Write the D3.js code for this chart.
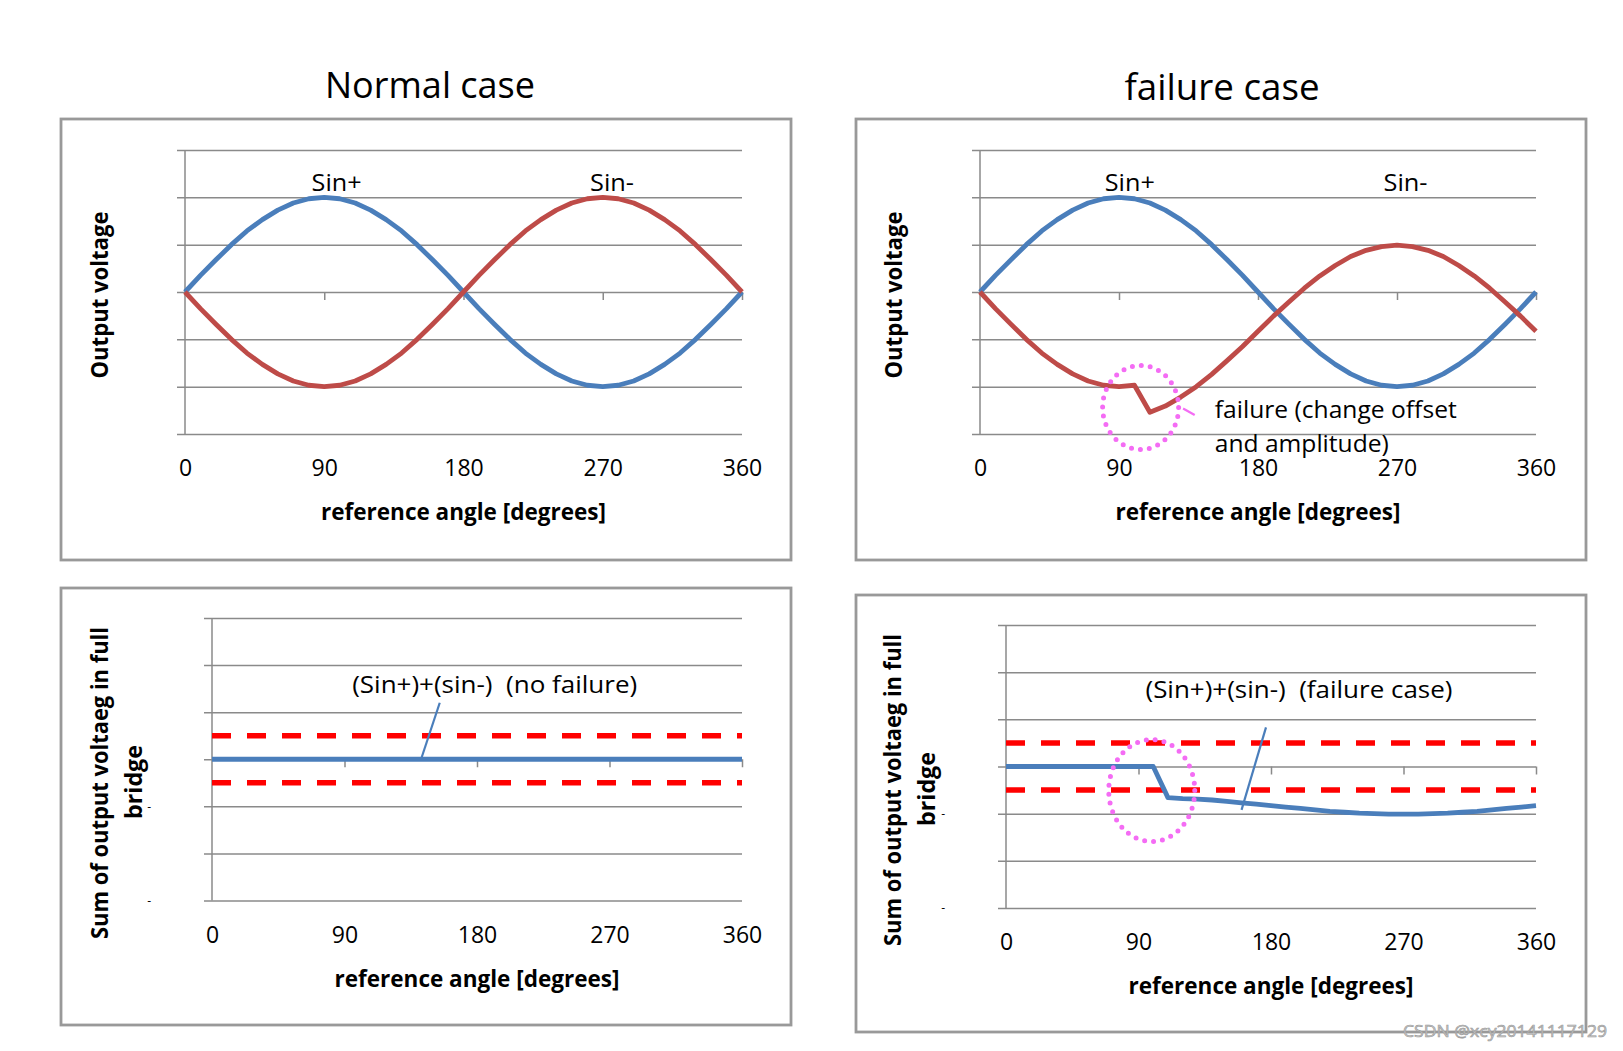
<!DOCTYPE html>
<html>
<head>
<meta charset="utf-8">
<script src="https://cdn.jsdelivr.net/npm/d3@7"></script>
<style>
  body { margin: 0; background: #fff; }
  svg text { font-family: "Open Sans", "Noto Sans", sans-serif; fill: #000; }
</style>
</head>
<body>
<svg id="chart" width="1623" height="1051"></svg>
<script>
// x values (reference angle, degrees)
const angles = [0, 10, 20, 30, 40, 50, 60, 70, 80, 90, 100, 110, 120, 130, 140, 150, 160, 170, 180,
  190, 200, 210, 220, 230, 240, 250, 260, 270, 280, 290, 300, 310, 320, 330, 340, 350, 360];

// output voltages
const sinPlus = [0, 0.35, 0.68, 1.00, 1.29, 1.53, 1.73, 1.88, 1.97, 2.00, 1.97, 1.88, 1.73, 1.53, 1.29, 1.00, 0.68, 0.35, 0,
  -0.35, -0.68, -1.00, -1.29, -1.53, -1.73, -1.88, -1.97, -2.00, -1.97, -1.88, -1.73, -1.53, -1.29, -1.00, -0.68, -0.35, 0];
const sinMinusNormal = [0, -0.35, -0.68, -1.00, -1.29, -1.53, -1.73, -1.88, -1.97, -2.00, -1.97, -1.88, -1.73, -1.53, -1.29, -1.00, -0.68, -0.35, 0,
  0.35, 0.68, 1.00, 1.29, 1.53, 1.73, 1.88, 1.97, 2.00, 1.97, 1.88, 1.73, 1.53, 1.29, 1.00, 0.68, 0.35, 0];
const sinMinusFailure = [0, -0.35, -0.68, -1.00, -1.29, -1.53, -1.73, -1.88, -1.97, -2.00, -1.97, -2.54, -2.41, -2.22, -2.00, -1.74, -1.45, -1.15, -0.83,
  -0.51, -0.21, 0.08, 0.34, 0.56, 0.75, 0.88, 0.96, 0.99, 0.96, 0.88, 0.75, 0.56, 0.34, 0.08, -0.21, -0.51, -0.83];

// sums in the full bridge
const sumNormal = [0, 0, 0, 0, 0, 0, 0, 0, 0, 0, 0, 0, 0, 0, 0, 0, 0, 0, 0,
  0, 0, 0, 0, 0, 0, 0, 0, 0, 0, 0, 0, 0, 0, 0, 0, 0, 0];
const sumFailure = [0, 0, 0, 0, 0, 0, 0, 0, 0, 0, 0, -0.66, -0.68, -0.69, -0.71, -0.74, -0.77, -0.80, -0.83,
  -0.86, -0.89, -0.92, -0.95, -0.97, -0.99, -1.00, -1.01, -1.01, -1.01, -1.00, -0.99, -0.97, -0.95, -0.92, -0.89, -0.86, -0.83];

// tolerance band
const limitAngles = [0, 360];
const upperLimit = [0.5, 0.5];
const lowerLimit = [-0.5, -0.5];

const xTickValues = [0, 90, 180, 270, 360];
const yGridValues = [-3, -2, -1, 0, 1, 2, 3];
const sumTickValues = [-1, -3];

const blue = "#4a7ebb", red = "#be4b48", gridColor = "#8a8a8a", pink = "#f46cf4";

const svg = d3.select("#chart");

function drawPanel(p) {
  const g = svg.append("g");

  g.append("rect")
    .attr("x", p.box[0]).attr("y", p.box[1])
    .attr("width", p.box[2]).attr("height", p.box[3])
    .attr("fill", "none").attr("stroke", "#999").attr("stroke-width", 2.8);

  const x = d3.scaleLinear().domain([0, 360]).range([p.left, p.right]);
  const y = d3.scaleLinear().domain([-3, 3]).range([p.bottom, p.top]);
  const w = p.right - p.left;

  // horizontal gridlines
  const grid = g.append("g")
    .attr("transform", `translate(${p.left},0)`)
    .call(d3.axisLeft(y).tickValues(yGridValues).tickFormat(""));
  grid.select(".domain").remove();
  grid.selectAll(".tick line")
    .attr("x1", -8).attr("x2", w)
    .attr("stroke", gridColor).attr("stroke-width", 1.5);

  // vertical axis
  g.append("line")
    .attr("x1", x(0)).attr("x2", x(0))
    .attr("y1", y(-3)).attr("y2", y(3))
    .attr("stroke", gridColor).attr("stroke-width", 1.5);

  // tick marks on the zero line
  const zero = g.append("g")
    .attr("transform", `translate(0,${y(0)})`)
    .call(d3.axisBottom(x).tickValues([90, 180, 270, 360]).tickSize(8).tickFormat(""));
  zero.select(".domain").remove();
  zero.selectAll(".tick line").attr("stroke", gridColor).attr("stroke-width", 1.5);

  // tick labels
  const xl = g.append("g")
    .attr("transform", `translate(0,${p.bottom})`)
    .call(d3.axisBottom(x).tickValues(xTickValues).tickSize(0))
    .attr("font-family", null).attr("font-size", null);
  xl.select(".domain").remove();
  xl.selectAll("text").attr("y", 42).attr("dy", null).style("font-size", "23px");

  if (p.sumTicks) {
    const yl = g.append("g")
      .attr("transform", `translate(${p.left - 58},0)`)
      .call(d3.axisLeft(y).tickValues(sumTickValues).tickSize(0).tickFormat(() => "-"))
      .attr("font-family", null).attr("font-size", null);
    yl.select(".domain").remove();
    yl.selectAll("text").style("font-size", "12px");
  }

  // axis titles
  g.append("text")
    .attr("x", (p.left + p.right) / 2).attr("y", p.bottom + 86)
    .attr("text-anchor", "middle")
    .attr("textLength", 285).attr("lengthAdjust", "spacingAndGlyphs")
    .style("font-size", "23px").style("font-weight", "bold")
    .text("reference angle [degrees]");

  p.yTitle.forEach(t => {
    g.append("text")
      .attr("transform", `translate(${t.x},${t.cy}) rotate(-90)`)
      .attr("text-anchor", "middle")
      .attr("textLength", t.len).attr("lengthAdjust", "spacingAndGlyphs")
      .style("font-size", "23px").style("font-weight", "bold")
      .text(t.text);
  });

  // limit band
  if (p.limits) {
    [upperLimit, lowerLimit].forEach(lim => {
      g.append("path")
        .datum(lim)
        .attr("d", d3.line().x((d, i) => x(limitAngles[i])).y(d => y(d)))
        .attr("fill", "none").attr("stroke", "#ff0000")
        .attr("stroke-width", 5.5).attr("stroke-dasharray", "19 16");
    });
  }

  // series
  const line = d3.line().x((d, i) => x(angles[i])).y(d => y(d));
  p.series.forEach(s => {
    g.append("path")
      .datum(s.values)
      .attr("d", line)
      .attr("fill", "none").attr("stroke", s.color)
      .attr("stroke-width", 4.8).attr("stroke-linejoin", "round");
  });

  // labels on the chart
  (p.labels || []).forEach(l => {
    g.append("text")
      .attr("x", x(l.a)).attr("y", y(l.v))
      .attr("text-anchor", l.anchor || "middle")
      .attr("textLength", l.len || null).attr("lengthAdjust", "spacingAndGlyphs")
      .style("font-size", "24px").style("white-space", "pre")
      .text(l.text);
  });

  // pointer lines
  (p.pointers || []).forEach(q => {
    g.append("line")
      .attr("x1", x(q.a1)).attr("y1", y(q.v1))
      .attr("x2", x(q.a2)).attr("y2", y(q.v2))
      .attr("stroke", q.color).attr("stroke-width", 2.2);
  });

  // dotted ring
  if (p.ring) {
    g.append("ellipse")
      .attr("cx", x(p.ring.a)).attr("cy", y(p.ring.v))
      .attr("rx", p.ring.rx).attr("ry", p.ring.ry)
      .attr("fill", "none").attr("stroke", pink)
      .attr("stroke-width", 5).attr("stroke-linecap", "round")
      .attr("stroke-dasharray", "0 9");
  }
}

// panel titles
svg.append("text").attr("x", 430).attr("y", 98).attr("text-anchor", "middle")
  .attr("textLength", 210).attr("lengthAdjust", "spacingAndGlyphs")
  .style("font-size", "37px").text("Normal case");
svg.append("text").attr("x", 1222).attr("y", 100).attr("text-anchor", "middle")
  .attr("textLength", 195).attr("lengthAdjust", "spacingAndGlyphs")
  .style("font-size", "37px").text("failure case");

drawPanel({
  box: [61, 119, 730, 441], left: 185, right: 742, top: 150, bottom: 434,
  yTitle: [{ text: "Output voltage", x: 108, cy: 295, len: 167 }],
  series: [{ values: sinPlus, color: blue }, { values: sinMinusNormal, color: red }],
  labels: [{ text: "Sin+", a: 98, v: 2.14, len: 50 }, { text: "Sin-", a: 276, v: 2.14, len: 44 }]
});

drawPanel({
  box: [856, 119, 730, 441], left: 980, right: 1536, top: 150, bottom: 434,
  yTitle: [{ text: "Output voltage", x: 902, cy: 295, len: 167 }],
  series: [{ values: sinPlus, color: blue }, { values: sinMinusFailure, color: red }],
  labels: [
    { text: "Sin+", a: 97, v: 2.14, len: 50 }, { text: "Sin-", a: 275.5, v: 2.14, len: 44 },
    { text: "failure (change offset", a: 152, v: -2.66, anchor: "start", len: 242 },
    { text: "and amplitude)", a: 152, v: -3.39, anchor: "start", len: 174 }
  ],
  pointers: [{ a1: 131.5, v1: -2.46, a2: 139, v2: -2.6, color: pink }],
  ring: { a: 104, v: -2.44, rx: 38, ry: 42 }
});

drawPanel({
  box: [61, 588, 730, 437], left: 212, right: 742, top: 618, bottom: 900.5,
  sumTicks: true, limits: true,
  yTitle: [
    { text: "Sum of output voltaeg in full", x: 108, cy: 783, len: 312 },
    { text: "bridge", x: 142, cy: 782, len: 74 }
  ],
  series: [{ values: sumNormal, color: blue }],
  labels: [{ text: "(Sin+)+(sin-)  (no failure)", a: 192, v: 1.4, len: 285 }],
  pointers: [{ a1: 142, v1: 0, a2: 154.7, v2: 1.2, color: blue }]
});

drawPanel({
  box: [856, 595, 730, 437], left: 1006, right: 1536, top: 625, bottom: 908,
  sumTicks: true, limits: true,
  yTitle: [
    { text: "Sum of output voltaeg in full", x: 901, cy: 790, len: 312 },
    { text: "bridge", x: 935, cy: 789, len: 74 }
  ],
  series: [{ values: sumFailure, color: blue }],
  labels: [{ text: "(Sin+)+(sin-)  (failure case)", a: 199, v: 1.46, len: 307 }],
  pointers: [{ a1: 160, v1: -0.92, a2: 176.6, v2: 0.83, color: blue }],
  ring: { a: 99, v: -0.51, rx: 43, ry: 51 }
});

// watermark
svg.append("text").attr("x", 1607).attr("y", 1037).attr("text-anchor", "end")
  .attr("textLength", 204).attr("lengthAdjust", "spacingAndGlyphs")
  .style("font-size", "17px").style("fill", "#c8c8c8")
  .style("stroke", "#9a9a9a").style("stroke-width", 0.6)
  .text("CSDN @xcy20141117129");
</script>
</body>
</html>
